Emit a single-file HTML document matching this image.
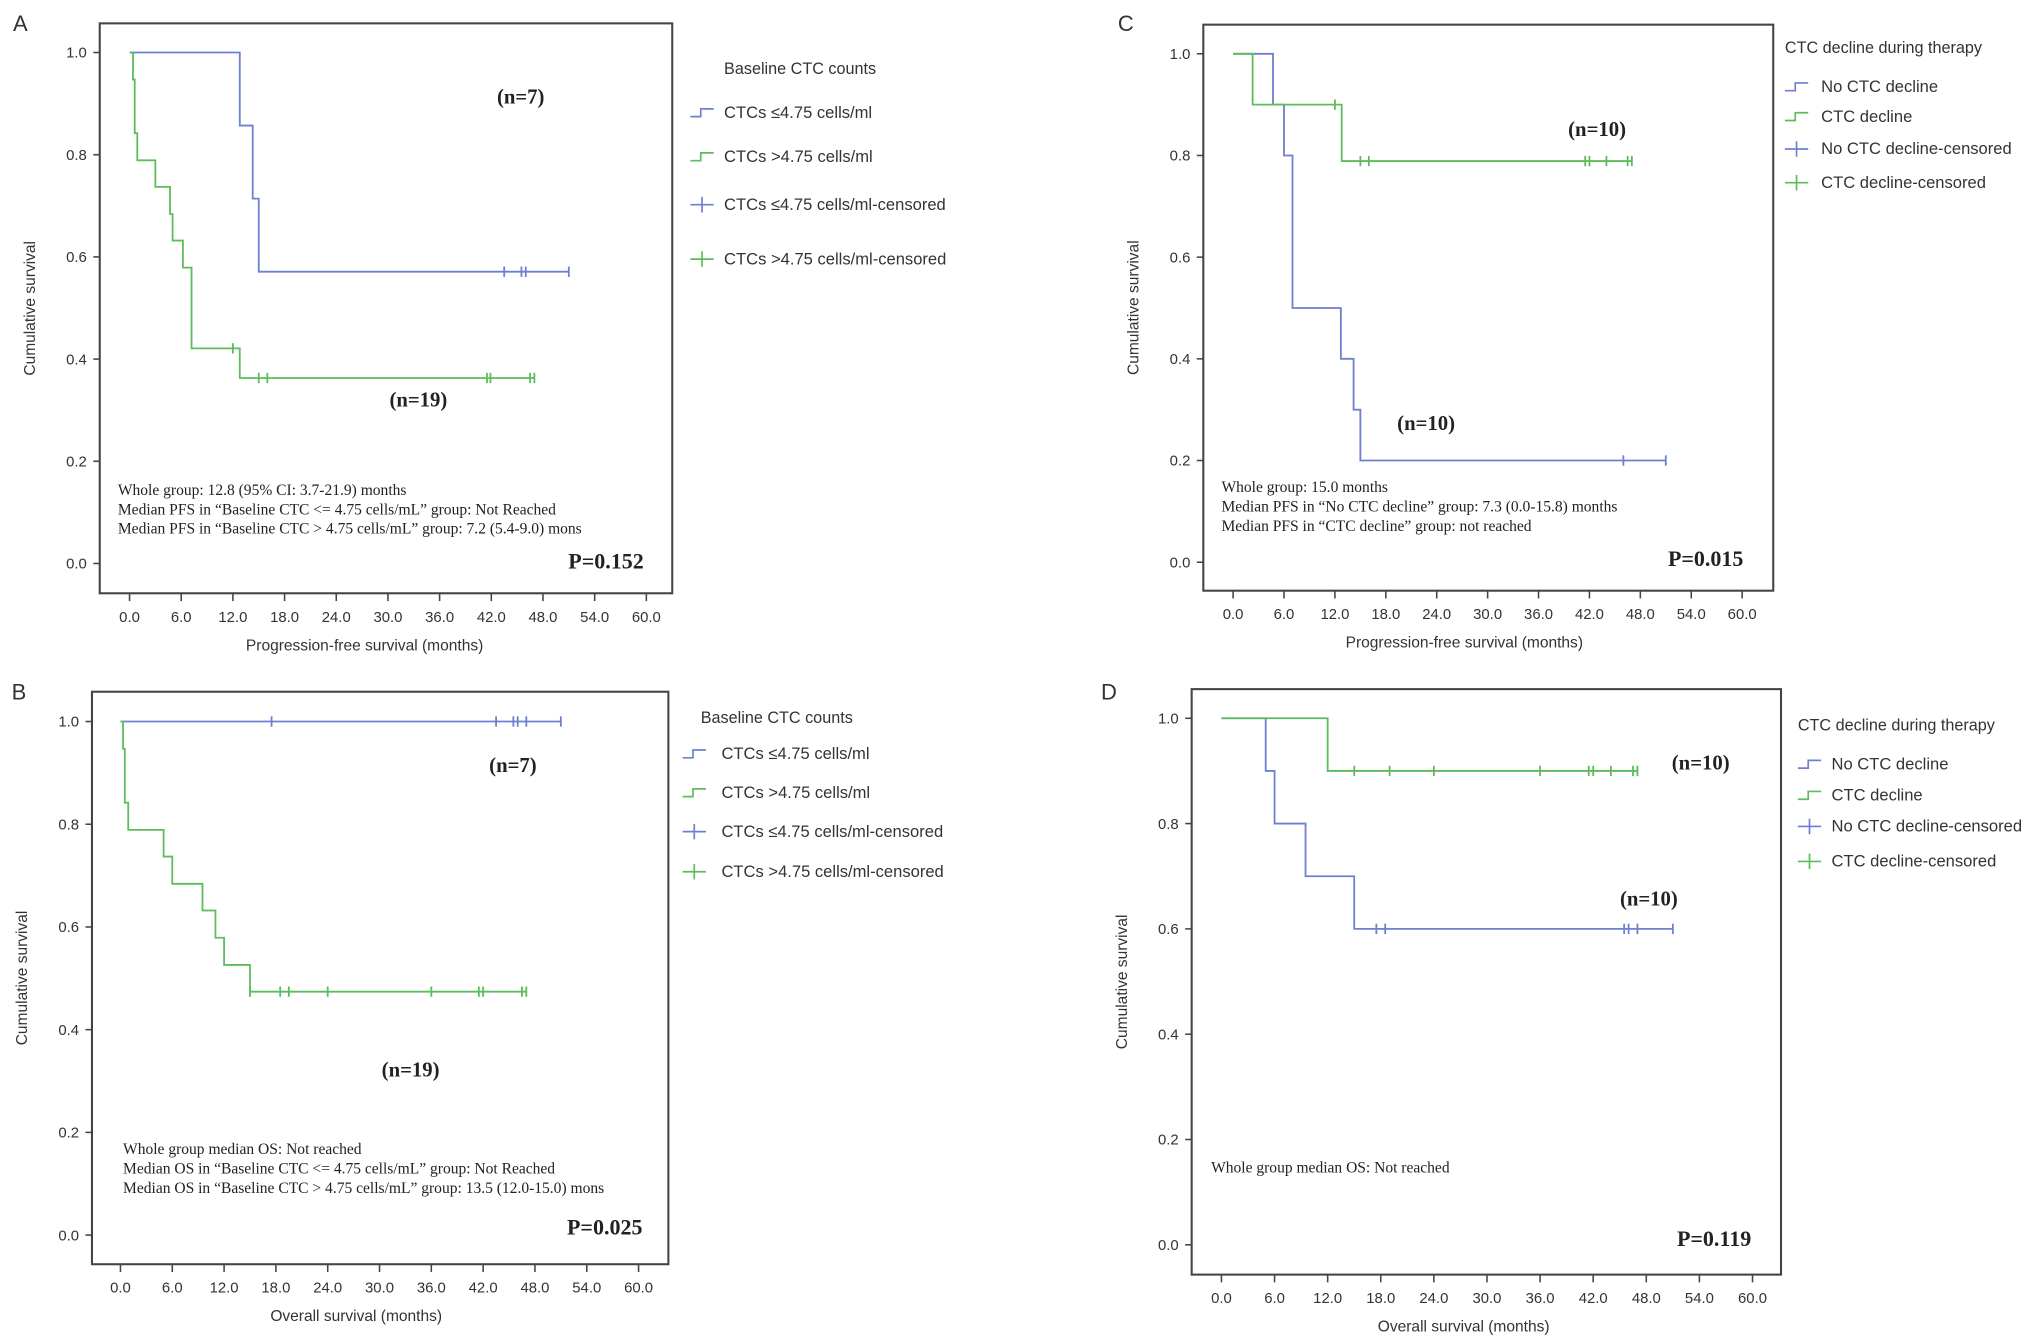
<!DOCTYPE html>
<html><head><meta charset="utf-8">
<style>
html,body{margin:0;padding:0;background:#fff;}
svg{display:block;}
text{font-family:"Liberation Sans",sans-serif;fill:#333;}
.serif{font-family:"Liberation Serif",serif;fill:#222;}
</style></head>
<body>
<svg id="fig" width="2031" height="1342" viewBox="0 0 1568 1036" xmlns="http://www.w3.org/2000/svg"></svg>
<script>
// ---- data (months, survival) ----
const xTicks = [0,6,12,18,24,30,36,42,48,54,60];
const yTicks = [0,0.2,0.4,0.6,0.8,1.0];
// Panel A
const aBlueTimes = [12.8,14.3,15.0];
const aBlueSurv = [0.857,0.714,0.571];
const aBlueEnd = 51;
const aBlueCens = [43.5,45.5,46,51];
const aGreenTimes = [0.4,0.6,0.9,3.0,4.7,5.0,6.2,7.2,12.8];
const aGreenSurv = [0.947,0.842,0.789,0.737,0.684,0.632,0.579,0.421,0.363];
const aGreenEnd = 47;
const aGreenCens = [12.0,15.0,16.0,41.5,41.9,46.5,47];
// Panel B
const bBlueTimes = [];
const bBlueSurv = [];
const bBlueEnd = 51;
const bBlueCens = [17.5,43.5,45.5,46,47,51];
const bGreenTimes = [0.3,0.5,0.9,5.0,6.0,9.5,11.0,12.0,15.0];
const bGreenSurv = [0.947,0.842,0.789,0.737,0.684,0.632,0.579,0.526,0.474];
const bGreenEnd = 47;
const bGreenCens = [15.0,18.5,19.5,24,36,41.5,42,46.5,47];
// Panel C
const cBlueTimes = [4.7,6.0,7.0,12.7,14.2,15.0];
const cBlueSurv = [0.9,0.8,0.5,0.4,0.3,0.2];
const cBlueEnd = 51;
const cBlueCens = [46,51];
const cGreenTimes = [2.3,12.8];
const cGreenSurv = [0.9,0.789];
const cGreenEnd = 47;
const cGreenCens = [12.0,15.0,16.0,41.5,42,44,46.5,47];
// Panel D
const dBlueTimes = [5.0,6.0,9.5,15.0];
const dBlueSurv = [0.9,0.8,0.7,0.6];
const dBlueEnd = 51;
const dBlueCens = [17.5,18.5,45.5,46,47,51];
const dGreenTimes = [12.0];
const dGreenSurv = [0.9];
const dGreenEnd = 47;
const dGreenCens = [15,19,24,36,41.5,42,44,46.5,47];

const BLUE = "#6d80d2", GREEN = "#5dbd5d";
const NS = "http://www.w3.org/2000/svg";
const svg = document.getElementById('fig');
function mk(tag, attrs, parent, txt){
  const e = document.createElementNS(NS, tag);
  for (const k in attrs) e.setAttribute(k, attrs[k]);
  if (txt !== undefined) e.textContent = txt;
  (parent||svg).appendChild(e); return e;
}
function fmtX(v){return v.toFixed(1);}

function panel(p){
  const g = mk('g', {});
  
  
  const xs = v => p.x0 + (p.x60 - p.x0) * v / 60;
  const ys = v => p.y0 + (p.y1 - p.y0) * v;
  const lt = mk('text', {x:p.lx, y:p.ly, 'font-size':17}, g, p.id);
   
  const box = mk('rect', {x:p.bx1, y:p.by1, width:p.bx2-p.bx1, height:p.by2-p.by1, fill:'none', stroke:'#444', 'stroke-width':1.6}, g);
   
  yTicks.forEach(v => {
    const y = ys(v);
    const t = mk('line', {x1:p.bx1-5, x2:p.bx1, y1:y, y2:y, stroke:'#444', 'stroke-width':1.2}, g);
     
    const l = mk('text', {x:p.bx1-10, y:y+4, 'font-size':11.5, 'text-anchor':'end'}, g, v.toFixed(1));
     
  });
  xTicks.forEach(v => {
    const x = xs(v);
    const t = mk('line', {x1:x, x2:x, y1:p.by2, y2:p.by2+6, stroke:'#444', 'stroke-width':1.2}, g);
     
    const l = mk('text', {x:x, y:p.by2+22, 'font-size':11.5, 'text-anchor':'middle'}, g, fmtX(v));
     
  });
  const xt = mk('text', {x:(p.x0+p.x60)/2 - 18, y:p.by2+44, 'font-size':12, 'text-anchor':'middle'}, g, p.xtitle);
   
  const ytx = p.bx1 - 50, yty = (p.by1+p.by2)/2;
  const yt = mk('text', {x:ytx, y:yty, 'font-size':12, 'text-anchor':'middle', transform:`rotate(-90 ${ytx} ${yty})`}, g, 'Cumulative survival');
   
  p.series.forEach(s => {
    let d = `M${xs(0)},${ys(1)}`;
    s.times.forEach((t, i) => { d += ` H${xs(t)} V${ys(s.surv[i])}`; });
    d += ` H${xs(s.end)}`;
    const path = mk('path', {d:d, fill:'none', stroke:s.color, 'stroke-width':1.4}, g);
     
    s.cens.forEach(c => {
      let sv = 1;
      s.times.forEach((t, i) => { if (t <= c) sv = s.surv[i]; });
      const x = xs(c), y = ys(sv);
      const m = mk('path', {d:`M${x},${y-4} V${y+4}`, stroke:s.color, 'stroke-width':1.4}, g);
       
    });
  });
  p.notes.forEach((n, i) => {
    const t = mk('text', {x:p.noteX, y:p.noteY + i*15, 'font-size':12, class:'serif'}, g, n);
     
  });
  const pv = mk('text', {x:p.pX, y:p.pY, 'font-size':17, 'font-weight':'bold', 'text-anchor':'end', class:'serif'}, g, p.pval);
   
  p.nlabels.forEach(n => {
    const t = mk('text', {x:n[0], y:n[1], 'font-size':16, 'font-weight':'bold', 'text-anchor':'middle', class:'serif'}, g, n[2]);
     
  });
  const lg = mk('g', {}, g);
   
  const lti = mk('text', {x:p.legTitleX, y:p.legTitleY, 'font-size':12.5}, lg, p.legTitle);
   
  p.legItems.forEach((it, i) => {
    const y = p.legYs[i], x = p.legSymX;
    const col = i % 2 === 0 ? BLUE : GREEN;
    const e = mk('g', {}, lg);
     
    if (i < 2) mk('path', {d:`M${x},${y+3} H${x+8} V${y-3} H${x+18}`, fill:'none', stroke:col, 'stroke-width':1.3}, e);
    else mk('path', {d:`M${x},${y} H${x+18} M${x+9},${y-6} V${y+6}`, fill:'none', stroke:col, 'stroke-width':1.3}, e);
    mk('text', {x:p.legTextX, y:y+4, 'font-size':12.8}, e, it);
  });
}

const legAB = ['CTCs ≤4.75 cells/ml','CTCs >4.75 cells/ml','CTCs ≤4.75 cells/ml-censored','CTCs >4.75 cells/ml-censored'];
const legCD = ['No CTC decline','CTC decline','No CTC decline-censored','CTC decline-censored'];

panel({id:'A', lx:10, ly:24, bx1:77, bx2:519, by1:18, by2:458, x0:100, x60:499, y1:40.5, y0:435,
  xtitle:'Progression-free survival (months)',
  series:[{name:'low-ctc', color:BLUE, times:aBlueTimes, surv:aBlueSurv, end:aBlueEnd, cens:aBlueCens},
          {name:'high-ctc', color:GREEN, times:aGreenTimes, surv:aGreenSurv, end:aGreenEnd, cens:aGreenCens}],
  notes:['Whole group: 12.8 (95% CI: 3.7-21.9) months','Median PFS in “Baseline CTC <= 4.75 cells/mL” group: Not Reached','Median PFS in “Baseline CTC > 4.75 cells/mL” group: 7.2 (5.4-9.0) mons'],
  noteX:91, noteY:382, pX:497, pY:439, pval:'P=0.152',
  nlabels:[[402,80,'(n=7)'],[323,314,'(n=19)']],
  legTitle:'Baseline CTC counts', legTitleX:559, legTitleY:57, legItems:legAB, legYs:[87,121,158,200], legSymX:533, legTextX:559});

panel({id:'B', lx:9, ly:540, bx1:71, bx2:516, by1:534, by2:976, x0:93, x60:493, y1:557, y0:953.5,
  xtitle:'Overall survival (months)',
  series:[{name:'low-ctc', color:BLUE, times:bBlueTimes, surv:bBlueSurv, end:bBlueEnd, cens:bBlueCens},
          {name:'high-ctc', color:GREEN, times:bGreenTimes, surv:bGreenSurv, end:bGreenEnd, cens:bGreenCens}],
  notes:['Whole group median OS: Not reached','Median OS in “Baseline CTC <= 4.75 cells/mL” group: Not Reached','Median OS in “Baseline CTC > 4.75 cells/mL” group: 13.5 (12.0-15.0) mons'],
  noteX:95, noteY:891, pX:496, pY:953, pval:'P=0.025',
  nlabels:[[396,596,'(n=7)'],[317,831,'(n=19)']],
  legTitle:'Baseline CTC counts', legTitleX:541, legTitleY:558, legItems:legAB, legYs:[582,612,642,673], legSymX:527, legTextX:557});

panel({id:'C', lx:863, ly:24, bx1:929, bx2:1369, by1:19, by2:456, x0:952, x60:1345, y1:41.5, y0:434,
  xtitle:'Progression-free survival (months)',
  series:[{name:'no-decline', color:BLUE, times:cBlueTimes, surv:cBlueSurv, end:cBlueEnd, cens:cBlueCens},
          {name:'decline', color:GREEN, times:cGreenTimes, surv:cGreenSurv, end:cGreenEnd, cens:cGreenCens}],
  notes:['Whole group: 15.0 months','Median PFS in “No CTC decline” group: 7.3 (0.0-15.8) months','Median PFS in “CTC decline” group: not reached'],
  noteX:943, noteY:380, pX:1346, pY:437, pval:'P=0.015',
  nlabels:[[1233,105,'(n=10)'],[1101,332,'(n=10)']],
  legTitle:'CTC decline during therapy', legTitleX:1378, legTitleY:41, legItems:legCD, legYs:[67,90,115,141], legSymX:1378, legTextX:1406});

panel({id:'D', lx:850, ly:540, bx1:920, bx2:1375, by1:532, by2:984, x0:943, x60:1353, y1:554.5, y0:961,
  xtitle:'Overall survival (months)',
  series:[{name:'no-decline', color:BLUE, times:dBlueTimes, surv:dBlueSurv, end:dBlueEnd, cens:dBlueCens},
          {name:'decline', color:GREEN, times:dGreenTimes, surv:dGreenSurv, end:dGreenEnd, cens:dGreenCens}],
  notes:['Whole group median OS: Not reached'],
  noteX:935, noteY:905, pX:1352, pY:962, pval:'P=0.119',
  nlabels:[[1313,594,'(n=10)'],[1273,699,'(n=10)']],
  legTitle:'CTC decline during therapy', legTitleX:1388, legTitleY:564, legItems:legCD, legYs:[590,614,638,665], legSymX:1388, legTextX:1414});
</script>
</body></html>
